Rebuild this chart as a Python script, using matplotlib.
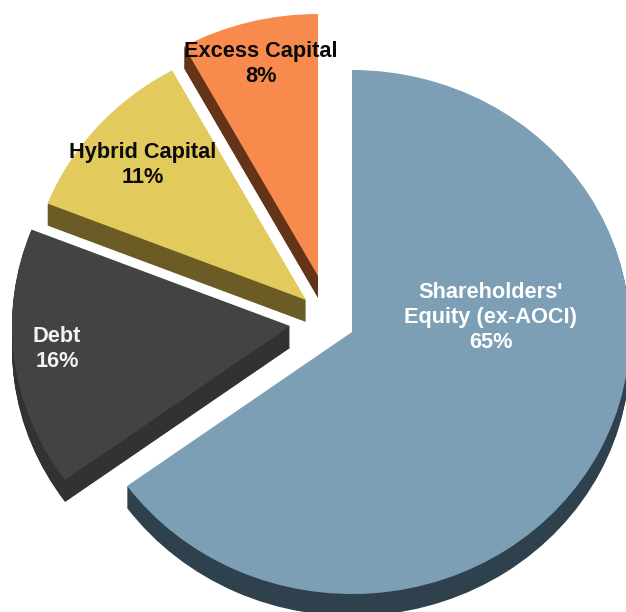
import matplotlib
matplotlib.use('Agg')
import matplotlib.pyplot as plt

# Shares of the capital structure, clockwise from 12 o'clock
categories = ["Shareholders'\nEquity (ex-AOCI)", 'Debt', 'Hybrid Capital', 'Excess Capital']
shares = [65, 16, 11, 8]

face_colors = ['#7c9fb5', '#434343', '#e2cb5c', '#f98a4e']
side_colors = ['#2f414c', '#323232', '#6b5c25', '#643418']
text_colors = ['#ffffff', '#f2f2f2', '#0a0a0a', '#0a0a0a']

# Layout in image pixels
W, H = 626, 612
RX, RY = 278, 262
DEPTH = 22
apex_px = [(352, 332), (290, 326), (306, 300), (318, 276)]
label_px = [(491, 317), (57, 349), (143, 165), (261, 64)]

sy = RX / RY  # the pie is squashed a bit, so y data is stretched


def to_data(px, py):
    return px, (H - py) * sy


fig = plt.figure(figsize=(W / 100, H / 100), dpi=100)
ax = fig.add_axes([0, 0, 1, 1])


# The slices are moved by hand, the explode of pie can't give these offsets
def draw_layer(colors, dy):
    wedges, _ = ax.pie(shares, colors=colors, startangle=90, counterclock=False, radius=RX)
    for w, (px, py) in zip(wedges, apex_px):
        w.set_center(to_data(px, py + dy))
        w.set_linewidth(0)


for d in range(DEPTH, 0, -1):
    draw_layer(side_colors, d)
draw_layer(face_colors, 0)

ax.set_aspect('auto')
ax.set_xlim(0, W)
ax.set_ylim(0, H * sy)
ax.axis('off')

for name, share, color, (px, py) in zip(categories, shares, text_colors, label_px):
    x, y = to_data(px, py)
    ax.text(x, y, f'{name}\n{share}%', ha='center', va='center', color=color,
            fontsize=15.7, fontweight='bold', family='Liberation Sans', linespacing=1.25)

fig.savefig('out.png', dpi=100, facecolor='white')
